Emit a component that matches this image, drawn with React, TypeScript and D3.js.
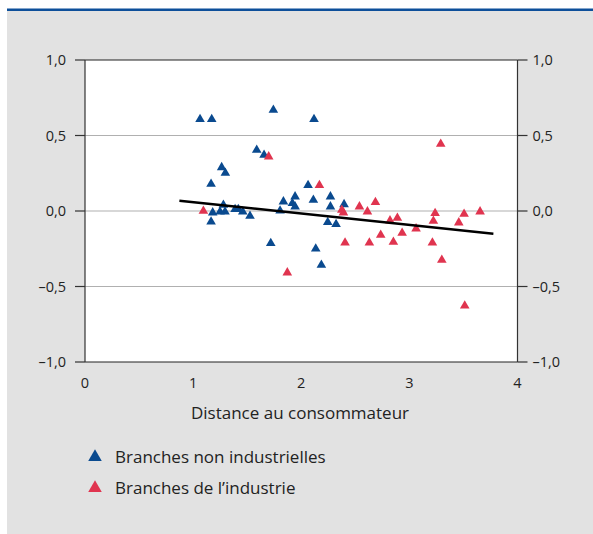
import React from "react";
import * as d3 from "d3";

const nonIndX = [1.064, 1.172, 1.742, 2.118, 1.588, 1.656, 1.264, 1.298, 1.166, 2.063, 1.835, 1.943, 1.918, 1.943, 2.112, 2.27, 2.27, 2.396, 1.181, 1.166, 1.28, 1.249, 1.295, 1.388, 1.418, 1.459, 1.526, 1.718, 1.804, 2.134, 2.186, 2.245, 2.322];
const nonIndY = [0.607, 0.607, 0.669, 0.607, 0.404, 0.371, 0.289, 0.252, 0.179, 0.17, 0.062, 0.095, 0.051, 0.029, 0.073, 0.095, 0.029, 0.044, -0.011, -0.071, 0.04, -0.005, -0.005, 0.011, 0.011, -0.005, -0.033, -0.214, 0.002, -0.25, -0.358, -0.075, -0.088];
const indX = [1.699, 2.168, 1.095, 1.871, 2.375, 2.39, 2.405, 3.29, 2.538, 2.612, 2.686, 2.63, 2.735, 2.821, 2.889, 2.852, 2.933, 3.062, 3.238, 3.222, 3.213, 3.3, 3.457, 3.506, 3.654, 3.512];
const indY = [0.36, 0.17, 0.0, -0.408, 0.007, -0.011, -0.21, 0.444, 0.029, -0.004, 0.058, -0.21, -0.159, -0.064, -0.046, -0.205, -0.146, -0.117, -0.015, -0.066, -0.21, -0.324, -0.077, -0.02, -0.004, -0.627];
const trendX = [0.873, 3.777];
const trendY = [0.068, -0.15];
const xTicks = [0, 1, 2, 3, 4];
const yTicks = [1, 0.5, 0, -0.5, -1];
const legendLabels = ["Branches non industrielles", "Branches de l\u2019industrie"];
const xTitle = "Distance au consommateur";

const BLUE = "#0a4a8f";
const RED = "#e0344f";
const FONT = "'Open Sans', 'Noto Sans', sans-serif";

export default function App() {
  const left = 85, right = 517.5, top = 60, bottom = 362;
  const x = d3.scaleLinear().domain([0, 4]).range([left, right]);
  const y = d3.scaleLinear().domain([-1, 1]).range([bottom, top]);
  const fmt = (v: number) => {
    const s = Math.abs(v).toFixed(1).replace(".", ",");
    return (v < 0 ? "\u2013" : "") + s;
  };
  const tri = d3.symbol().type(d3.symbolTriangle).size(40)() as string;
  const line = d3.line<number>().x((_, i) => x(trendX[i])).y((d) => y(d));
  return (
    <svg width={593} height={534} style={{ position: "absolute", left: 0, top: 0 }} fontFamily={FONT}>
      <rect x={7} y={10} width={586} height={524} fill="#e2e2e2" />
      <rect x={7} y={8.5} width={586} height={2.5} fill="#0d4f9a" />
      <rect x={left} y={top} width={right - left} height={bottom - top} fill="#ffffff" />
      {yTicks.filter((t) => Math.abs(t) < 1).map((t) => (
        <line key={"g" + t} x1={left} x2={right} y1={y(t)} y2={y(t)} stroke="#b0b0b0" strokeWidth={1.2} />
      ))}
      <line x1={left} x2={right} y1={top} y2={top} stroke="#222" strokeWidth={1.2} />
      <line x1={left} x2={right} y1={bottom} y2={bottom} stroke="#222" strokeWidth={1.2} />
      <line x1={left} x2={left} y1={top} y2={bottom} stroke="#333" strokeWidth={1.2} />
      <line x1={right} x2={right} y1={top} y2={bottom} stroke="#333" strokeWidth={1.2} />
      {yTicks.map((t) => (
        <g key={"t" + t}>
          <line x1={left - 10} x2={left} y1={y(t)} y2={y(t)} stroke="#333" strokeWidth={1.2} />
          <line x1={right} x2={right + 10} y1={y(t)} y2={y(t)} stroke="#333" strokeWidth={1.2} />
          <text x={left - 19} y={y(t)} dy="0.35em" textAnchor="end" fontSize={14.5} fill="#222">{fmt(t)}</text>
          <text x={right + 15} y={y(t)} dy="0.35em" textAnchor="start" fontSize={14.5} fill="#222">{fmt(t)}</text>
        </g>
      ))}
      {xTicks.map((t) => (
        <text key={"x" + t} x={x(t)} y={388} textAnchor="middle" fontSize={14.5} fill="#222">{t}</text>
      ))}
      <text x={300} y={419} textAnchor="middle" fontSize={17} fill="#222">{xTitle}</text>
      {nonIndX.map((v, i) => (
        <path key={"b" + i} d={tri} transform={`translate(${x(v)},${y(nonIndY[i])})`} fill={BLUE} />
      ))}
      {indX.map((v, i) => (
        <path key={"r" + i} d={tri} transform={`translate(${x(v)},${y(indY[i])})`} fill={RED} />
      ))}
      <path d={line(trendY) as string} stroke="#000" strokeWidth={2.5} fill="none" />
      {legendLabels.map((l, i) => (
        <g key={"l" + i} transform={`translate(0,${457 + i * 31})`}>
          <path d={d3.symbol().type(d3.symbolTriangle).size(80)() as string} transform="translate(95,0)" fill={i === 0 ? BLUE : RED} />
          <text x={115} y={0} dy="0.35em" fontSize={17} fill="#222">{l}</text>
        </g>
      ))}
    </svg>
  );
}
